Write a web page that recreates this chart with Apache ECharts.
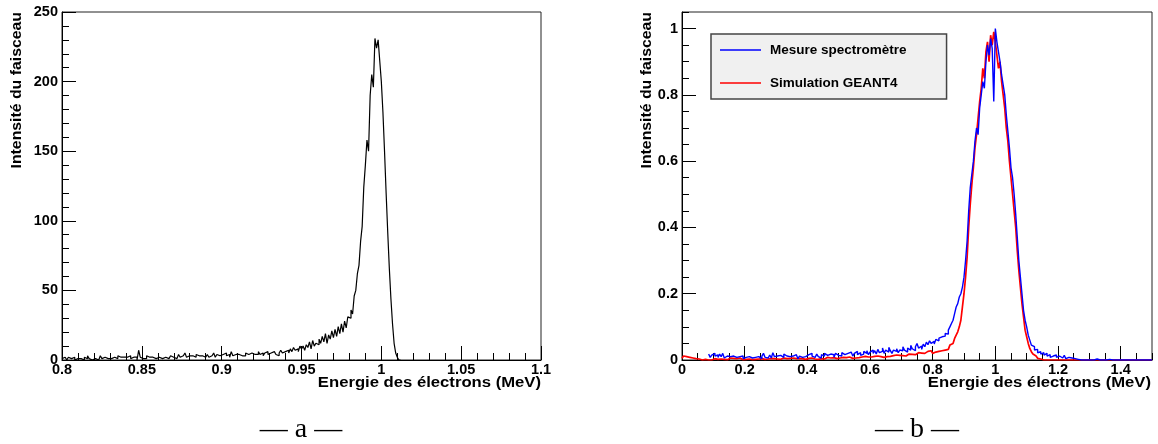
<!DOCTYPE html>
<html><head><meta charset="utf-8">
<script src="https://cdn.jsdelivr.net/npm/echarts@6/dist/echarts.min.js"></script>
<style>html,body{margin:0;padding:0;background:#fff}#c{width:1158px;height:444px}</style>
</head><body><div id="c"></div>
<script>
// ---- Panel a: beam energy spectrum (counts), bins of 0.001 MeV from 0.8 MeV
const leftStart = 0.8, leftBin = 0.001;
const leftCounts = [
  1,2,1,0,2,1,1,2,0,1,
  2,1,1,0,2,1,3,1,0,1,
  1,2,0,1,3,1,2,1,1,2,
  1,0,2,1,1,3,2,1,2,1,
  2,1,3,1,2,1,2,0,7,2,
  1,2,1,3,2,1,2,3,1,2,
  2,3,1,2,2,3,1,2,3,2,
  3,1,2,4,2,3,2,5,2,3,
  2,3,3,2,4,3,2,3,4,2,
  3,4,2,3,3,5,2,4,3,3,
  4,3,5,3,4,2,6,3,4,3,
  4,5,3,4,3,5,4,3,5,4,
  4,5,4,6,4,5,3,5,6,4,
  5,4,6,5,4,3,5,7,5,6,
  6,7,5,8,6,9,7,8,6,10,
  8,10,7,11,9,13,8,14,10,12,
  11,15,12,17,13,19,12,18,15,21,
  16,22,17,24,19,26,20,28,23,31,
  30,36,33,46,50,62,68,85,96,124,
  140,158,150,190,205,196,231,224,230,215,
  200,178,150,120,92,66,44,26,12,5,
  2,0
];
// ---- Panel b: normalised spectra, bins of 0.005 MeV from 0
const rightStart = 0, rightBin = 0.005;
const blueMeasure = [
  null,null,null,null,null,null,null,null,null,null,null,null,null,null,null,null,null,0.018,0.008,0.015,
  0.02,0.012,0.015,0.008,0.018,0.01,0.02,0.006,0.012,0.016,0.01,0.004,0.012,0.018,0.008,0.014,0.01,0.006,0.012,0.004,
  0.008,0.004,0.01,0.012,0.006,0.01,0.008,0.014,0.01,0.016,0.004,0.012,0.02,0.008,0.006,0.01,0.015,0.006,0.022,0.01,
  0.012,0.006,0.014,0.01,0.008,0.018,0.012,0.006,0.01,0.014,0.012,0.008,0.016,0.01,0.004,0.012,0.008,0.014,0.01,0.012,
  0.016,0.01,0.02,0.012,0.008,0.014,0.018,0.01,0.006,0.016,0.012,0.02,0.014,0.01,0.018,0.012,0.016,0.008,0.02,0.014,
  0.018,0.012,0.022,0.016,0.01,0.02,0.014,0.024,0.018,0.012,0.02,0.026,0.016,0.022,0.014,0.018,0.026,0.02,0.028,0.016,
  0.024,0.03,0.02,0.028,0.018,0.032,0.022,0.026,0.036,0.02,0.03,0.024,0.038,0.028,0.02,0.03,0.026,0.034,0.022,0.03,
  0.028,0.04,0.03,0.024,0.036,0.03,0.044,0.034,0.028,0.04,0.05,0.036,0.042,0.032,0.048,0.04,0.054,0.046,0.058,0.05,
  0.056,0.048,0.062,0.058,0.066,0.07,0.064,0.072,0.08,0.078,0.09,0.1,0.11,0.12,0.14,0.16,0.17,0.19,0.2,0.22,
  0.25,0.3,0.36,0.45,0.52,0.56,0.6,0.66,0.7,0.68,0.76,0.8,0.84,0.82,0.9,0.95,0.92,0.97,0.94,0.78,
  1.0,0.96,0.93,0.9,0.86,0.83,0.8,0.74,0.69,0.64,0.58,0.55,0.5,0.44,0.37,0.3,0.25,0.2,0.15,0.12,
  0.1,0.075,0.06,0.045,0.04,0.03,0.032,0.022,0.025,0.018,0.022,0.015,0.02,0.012,0.016,0.008,0.012,0.01,0.015,0.008,
  0.012,0.018,0.006,0.01,0.014,0.004,0.008,0.004,0.006,0.002,0.004,0,0.002,0.004,0,0.002,0,0.003,0,0,
  0,0.002,0,0,0.003,0,0,0.002,0,0,0,0,0.002,0,0,0.003,0,0,0,0,
  0,0,0,0.002,0,0,0,0,0,0,0,0,0,0,0,0,0,0,0,0
];
const redSim = [
  0.005,0.012,0.01,0.004,0.008,0.002,0.006,0,0.004,0,0.003,0,0,0,0.002,0,0,0,0,0.002,
  0.004,0.006,0.002,0.008,0.003,0.005,0.002,0.006,0.001,0.004,0.006,0.002,0.005,0.001,0.004,0.002,0.006,0.003,0.001,0.004,
  0.002,0.005,0.003,0.006,0.001,0.004,0.002,0.005,0.003,0.001,0.004,0.006,0.002,0.004,0.003,0.001,0.005,0.002,0.004,0.006,
  0.003,0.005,0.002,0.004,0.006,0.001,0.004,0.003,0.005,0.002,0.006,0.003,0.004,0.002,0.005,0.001,0.004,0.006,0.002,0.004,
  0.005,0.002,0.006,0.004,0.003,0.007,0.002,0.005,0.004,0.006,0.003,0.005,0.008,0.004,0.006,0.003,0.007,0.005,0.004,0.006,
  0.006,0.004,0.008,0.005,0.007,0.003,0.009,0.006,0.005,0.008,0.006,0.01,0.007,0.005,0.009,0.007,0.011,0.006,0.009,0.008,
  0.009,0.007,0.011,0.008,0.012,0.009,0.01,0.013,0.008,0.012,0.01,0.014,0.011,0.009,0.013,0.012,0.015,0.01,0.014,0.012,
  0.013,0.016,0.012,0.015,0.018,0.014,0.017,0.02,0.016,0.019,0.022,0.018,0.021,0.024,0.02,0.023,0.026,0.022,0.028,0.025,
  0.02,0.024,0.02,0.026,0.022,0.028,0.024,0.03,0.027,0.032,0.035,0.045,0.05,0.055,0.065,0.075,0.085,0.1,0.12,0.16,
  0.2,0.25,0.31,0.4,0.47,0.53,0.58,0.64,0.68,0.73,0.78,0.82,0.88,0.85,0.93,0.96,0.9,0.98,0.95,0.99,
  0.96,0.92,0.88,0.9,0.84,0.8,0.76,0.7,0.66,0.6,0.55,0.5,0.45,0.4,0.33,0.27,0.22,0.17,0.13,0.09,
  0.07,0.05,0.035,0.025,0.018,0.012,0.008,0.005,0.003,0.002,0,0.001,0,0,0,0,0,0,0,0,
  0,0,0,0,0,0,0,0,0,0,0,0,0,0,0,0,0,0,0,0,
  0,0,0,0,0,0,0,0,0,0,0,0,0,0,0,0,0,0,0,0,
  0,0,0,0,0,0,0,0,0,0,0,0,0,0,0,0,0,0,0,0
];
// ---- Axis ticks
const leftXTicks = [0.8, 0.85, 0.9, 0.95, 1, 1.05, 1.1];
const leftYTicks = [0, 50, 100, 150, 200, 250];
const rightXTicks = [0, 0.2, 0.4, 0.6, 0.8, 1, 1.2, 1.4];
const rightYTicks = [0, 0.2, 0.4, 0.6, 0.8, 1];
const rightXMinor = 0.05, rightXMax = 1.5;
const rightYMinor = 0.05, rightYMax = 1.05;
// ---- Texts
const yTitle = 'Intensité du faisceau';
const xTitle = 'Energie des électrons (MeV)';
const seriesNames = ['Mesure spectromètre', 'Simulation GEANT4'];
const captions = ['— a —', '— b —'];

function toSteps(start, w, vals) {
  const pts = vals.map((v, i) => [+(start + i * w).toFixed(4), v]);
  pts.push([+(start + vals.length * w).toFixed(4), vals[vals.length - 1]]);
  return pts;
}
const fmt = v => String(+(+v).toFixed(4));

const SANS = '"Liberation Sans", Arial, Helvetica, sans-serif';
const lbl = { fontFamily: SANS, fontWeight: 'bold', fontSize: 14.5, color: '#000', formatter: fmt };

function axisBase(extra) {
  return Object.assign({
    type: 'value',
    splitLine: { show: false },
    minorSplitLine: { show: false },
    axisLine: { show: true, onZero: false, lineStyle: { color: '#000', width: 1 } },
    axisTick: { show: true, inside: true, length: 14, lineStyle: { color: '#000', width: 1 } },
    minorTick: { show: false },
    axisLabel: Object.assign({}, lbl),
    axisPointer: { show: false }
  }, extra);
}

const chart = echarts.init(document.getElementById('c'), null, { renderer: 'canvas' });
const titleFont = 'bold 14px ' + SANS;
const option = {
  animation: false,
  backgroundColor: '#fff',
  grid: [
    { left: 62, top: 12, width: 479, height: 348, show: true, borderColor: '#222', borderWidth: 1, backgroundColor: 'transparent' },
    { left: 682, top: 12, width: 470, height: 348, show: true, borderColor: '#222', borderWidth: 1, backgroundColor: 'transparent' }
  ],
  xAxis: [
    axisBase({ gridIndex: 0, position: 'bottom', min: leftXTicks[0], max: leftXTicks[leftXTicks.length - 1],
      interval: 0.05,
      minorTick: { show: true, splitNumber: 5, length: 7, lineStyle: { color: '#000', width: 1 } },
      axisLabel: Object.assign({}, lbl, { margin: 2 }) }),
    axisBase({ gridIndex: 1, position: 'bottom', min: rightXTicks[0], max: rightXMax,
      interval: 0.2,
      axisLabel: Object.assign({}, lbl, { margin: 2, showMaxLabel: false }) }),
    axisBase({ gridIndex: 1, position: 'bottom', min: rightXTicks[0], max: rightXMax, interval: rightXMinor,
      axisLine: { show: false }, axisLabel: { show: false },
      axisTick: { show: true, inside: true, length: 7, lineStyle: { color: '#000', width: 1 } } })
  ],
  yAxis: [
    axisBase({ gridIndex: 0, position: 'left', min: leftYTicks[0], max: leftYTicks[leftYTicks.length - 1],
      interval: 50,
      minorTick: { show: true, splitNumber: 5, length: 7, lineStyle: { color: '#000', width: 1 } },
      axisLabel: Object.assign({}, lbl, { margin: 4 }) }),
    axisBase({ gridIndex: 1, position: 'left', min: rightYTicks[0], max: rightYMax,
      interval: 0.2,
      axisLabel: Object.assign({}, lbl, { margin: 4, showMaxLabel: false }) }),
    axisBase({ gridIndex: 1, position: 'left', min: rightYTicks[0], max: rightYMax, interval: rightYMinor,
      axisLine: { show: false }, axisLabel: { show: false },
      axisTick: { show: true, inside: true, length: 7, lineStyle: { color: '#000', width: 1 } } })
  ],
  legend: {
    orient: 'vertical', left: 711, top: 34,
    data: [{ name: seriesNames[0], icon: 'rect' }, { name: seriesNames[1], icon: 'rect' }],
    padding: [9, 40, 9, 9],
    itemWidth: 41, itemHeight: 1.5, itemGap: 19,
    backgroundColor: '#f0f0f0', borderColor: '#444', borderWidth: 1.5,
    textStyle: { fontFamily: SANS, fontWeight: 'bold', fontSize: 13.5, color: '#000', padding: [0, 0, 0, 4] },
    selectedMode: false
  },
  series: [
    { name: 'a', type: 'line', xAxisIndex: 0, yAxisIndex: 0, step: 'end', symbol: 'none', silent: true,
      lineStyle: { color: '#000', width: 1.2 }, data: toSteps(leftStart, leftBin, leftCounts) },
    { name: seriesNames[1], type: 'line', xAxisIndex: 1, yAxisIndex: 1, step: 'end', symbol: 'none', silent: true,
      color: '#ff0000', itemStyle: { color: '#ff0000' }, lineStyle: { color: '#ff0000', width: 1.7 }, data: toSteps(rightStart, rightBin, redSim) },
    { name: seriesNames[0], type: 'line', xAxisIndex: 1, yAxisIndex: 1, step: 'end', symbol: 'none', silent: true,
      color: '#0000ff', itemStyle: { color: '#0000ff' }, lineStyle: { color: '#0000ff', width: 1.4 }, data: toSteps(rightStart, rightBin, blueMeasure) }
  ],
  graphic: [
    { type: 'text', x: 17, y: 12, rotation: Math.PI / 2, scaleX: 1.13,
      style: { text: yTitle, font: titleFont, fill: '#000', align: 'right', verticalAlign: 'middle', textAlign: 'right', textVerticalAlign: 'middle' } },
    { type: 'text', x: 647, y: 12, rotation: Math.PI / 2, scaleX: 1.13,
      style: { text: yTitle, font: titleFont, fill: '#000', align: 'right', verticalAlign: 'middle', textAlign: 'right', textVerticalAlign: 'middle' } },
    { type: 'text', x: 541, y: 383, scaleX: 1.19,
      style: { text: xTitle, font: titleFont, fill: '#000', align: 'right', verticalAlign: 'middle', textAlign: 'right', textVerticalAlign: 'middle' } },
    { type: 'text', x: 1151, y: 383, scaleX: 1.19,
      style: { text: xTitle, font: titleFont, fill: '#000', align: 'right', verticalAlign: 'middle', textAlign: 'right', textVerticalAlign: 'middle' } },
    { type: 'text', x: 301, y: 430,
      style: { text: captions[0], font: '28px "Liberation Serif", "DejaVu Serif", serif', fill: '#000', align: 'center', verticalAlign: 'middle', textAlign: 'center', textVerticalAlign: 'middle' } },
    { type: 'text', x: 917, y: 430,
      style: { text: captions[1], font: '28px "Liberation Serif", "DejaVu Serif", serif', fill: '#000', align: 'center', verticalAlign: 'middle', textAlign: 'center', textVerticalAlign: 'middle' } }
  ]
};
chart.setOption(option);
</script>
</body></html>
